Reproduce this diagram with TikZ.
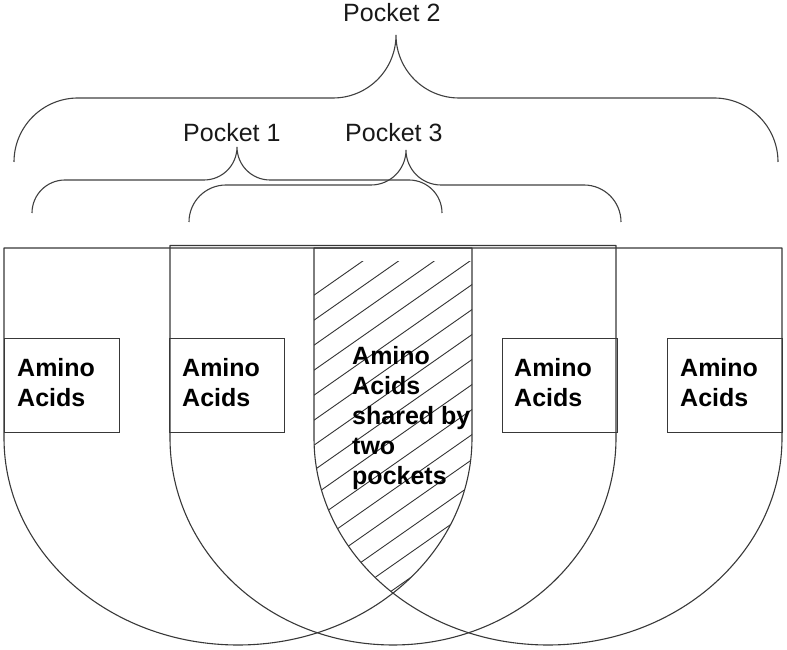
\documentclass[tikz,border=0pt]{standalone}
\usepackage{fontspec}
\setmainfont{Liberation Sans}
\begin{document}
\begin{tikzpicture}[x=1pt,y=1pt,
  ln/.style={line width=1.1pt, draw=black!78, line join=round},
  hatchline/.style={line width=0.9pt, draw=black!80},
  brace/.style={line width=1.1pt, draw=black!75},
  lbl/.style={font=\fontsize{25}{30}\selectfont, anchor=base west, inner sep=0pt, text=black!90},
  aa/.style={font=\bfseries\fontsize{25}{30}\selectfont, anchor=base west, inner sep=0pt, text=black},
  aabox/.style={draw=black!78, line width=1.1pt, inner sep=0pt, anchor=south west, minimum width=115pt, minimum height=94pt}
]
\useasboundingbox (0,0) rectangle (787,650);

% hatching of the shared region
\begin{scope}
  \clip (4,402) -- (4,212) arc[start angle=180,end angle=360,x radius=234,y radius=207] -- (472,402) -- cycle;
  \clip (314,402) -- (314,212) arc[start angle=180,end angle=360,x radius=234,y radius=207] -- (782,402) -- cycle;
  \clip (300,388) rectangle (480,0);
  \foreach \k in {0,...,17} \draw[hatchline] (310,{352-25*\k}) -- ++(166,116.2);
\end{scope}

% three pockets (U shapes)
\draw[ln] (4,402) -- (4,212) arc[start angle=180,end angle=360,x radius=234,y radius=207] -- (472,402) -- cycle;
\draw[ln] (170,404.5) -- (170,212) arc[start angle=180,end angle=360,x radius=223,y radius=207] -- (616,404.5) -- cycle;
\draw[ln] (314,402) -- (314,212) arc[start angle=180,end angle=360,x radius=234,y radius=207] -- (782,402) -- cycle;

% amino acid boxes
\node[aabox] (b1) at (4,217) {};
\node[aabox] (b2) at (169,217) {};
\node[aabox] (b3) at (502,217) {};
\node[aabox] (b4) at (667,217) {};

\node[aa] (t1a) at (17,273) {Amino};
\node[aa] (t1b) at (17,243) {Acids};
\node[aa] (t2a) at (182,273) {Amino};
\node[aa] (t2b) at (182,243) {Acids};
\node[aa] (t3a) at (514,273) {Amino};
\node[aa] (t3b) at (514,243) {Acids};
\node[aa] (t4a) at (680,273) {Amino};
\node[aa] (t4b) at (680,243) {Acids};

\node[aa] (s1) at (352,285) {Amino};
\node[aa] (s2) at (352,255) {Acids};
\node[aa] (s3) at (352,225) {shared by};
\node[aa] (s4) at (352,195) {two};
\node[aa] (s5) at (352,165) {pockets};

% braces
\draw[brace] (14,488) arc[start angle=180,end angle=90,radius=64] -- (333,552)
  arc[start angle=270,end angle=360,radius=63]
  arc[start angle=180,end angle=270,radius=63] -- (714,552)
  arc[start angle=90,end angle=0,radius=64];
\draw[brace] (32,437) arc[start angle=180,end angle=90,radius=33] -- (204,470)
  arc[start angle=270,end angle=360,radius=33]
  arc[start angle=180,end angle=270,radius=33] -- (409,470)
  arc[start angle=90,end angle=0,radius=33];
\draw[brace] (189,428) arc[start angle=180,end angle=90,radius=37] -- (371,465)
  arc[start angle=270,end angle=360,radius=35]
  arc[start angle=180,end angle=270,radius=35] -- (584,465)
  arc[start angle=90,end angle=0,radius=37];

\node[lbl] (p2) at (343,628) {Pocket 2};
\node[lbl] (p1) at (183,508) {Pocket 1};
\node[lbl] (p3) at (345,508) {Pocket 3};
\end{tikzpicture}
\end{document}
